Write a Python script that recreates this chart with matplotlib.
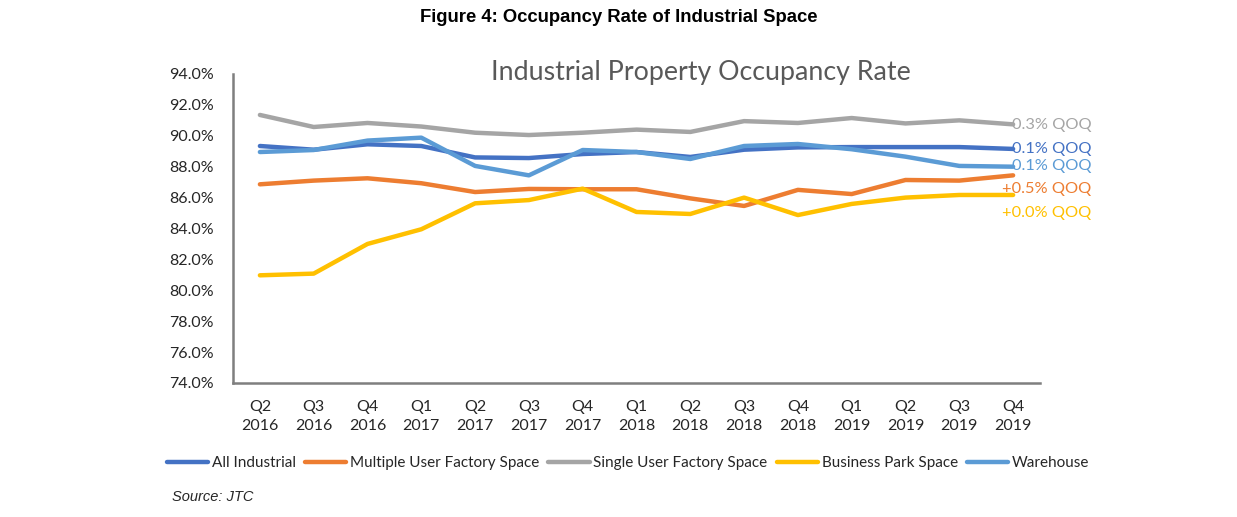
import matplotlib.pyplot as plt

quarters = ["Q2\n2016", "Q3\n2016", "Q4\n2016", "Q1\n2017", "Q2\n2017", "Q3\n2017", "Q4\n2017",
            "Q1\n2018", "Q2\n2018", "Q3\n2018", "Q4\n2018", "Q1\n2019", "Q2\n2019", "Q3\n2019", "Q4\n2019"]

all_industrial = [89.34, 89.1, 89.45, 89.34, 88.6, 88.56, 88.82, 88.95, 88.63, 89.1, 89.25, 89.27, 89.27, 89.27, 89.15]
multiple_user = [86.86, 87.1, 87.25, 86.93, 86.36, 86.56, 86.54, 86.54, 85.95, 85.46, 86.5, 86.23, 87.14, 87.1, 87.44]
single_user = [91.35, 90.57, 90.83, 90.6, 90.2, 90.05, 90.2, 90.4, 90.25, 90.95, 90.83, 91.15, 90.8, 91.0, 90.74]
business_park = [80.97, 81.08, 83.0, 83.95, 85.63, 85.84, 86.58, 85.07, 84.94, 86.0, 84.87, 85.59, 86.0, 86.17, 86.17]
warehouse = [88.95, 89.08, 89.69, 89.88, 88.05, 87.44, 89.08, 88.95, 88.5, 89.34, 89.47, 89.13, 88.65, 88.05, 88.0]

series_names = ["All Industrial", "Multiple User Factory Space", "Single User Factory Space",
                "Business Park Space", "Warehouse"]
series_values = [all_industrial, multiple_user, single_user, business_park, warehouse]
colors = ["#4472C4", "#ED7D31", "#A5A5A5", "#FFC000", "#5B9BD5"]
qoq_labels = ["-0.1% QOQ", "+0.5% QOQ", "-0.3% QOQ", "+0.0% QOQ", "-0.1% QOQ"]
# where each QOQ label sits (y in %, label centre)
qoq_label_y = [89.17, 86.56, 90.72, 85.0, 88.02]

plt.rcParams['font.family'] = ['Lato', 'DejaVu Sans']

fig = plt.figure(figsize=(12.37, 5.17), dpi=100)
ax = fig.add_axes([233 / 1237, 1 - 383 / 517, (1040 - 233) / 1237, (383 - 74) / 517])

x = list(range(len(quarters)))
for name, vals, col in zip(series_names, series_values, colors):
    ax.plot(x, vals, color=col, linewidth=3.2, label=name, solid_capstyle='round', zorder=3)

# QOQ labels at line ends; the minus signs tuck under the line ends
for col, lab, ly in zip(colors, qoq_labels, qoq_label_y):
    dx = -0.2 if lab.startswith("+") else -0.14
    ax.text(x[-1] + dx, ly, lab, color=col, fontsize=11.8, va='center', ha='left',
            zorder=2, clip_on=False)

ax.set_xlim(-0.5, len(quarters) - 0.5)
ax.set_ylim(74, 94)
ax.set_yticks(range(74, 95, 2))
ax.set_yticklabels([f"{v:.1f}%" for v in range(74, 95, 2)], fontsize=11.5, color="#262626")
ax.set_xticks(x)
ax.set_xticklabels(quarters, fontsize=11.5, color="#262626", linespacing=1.5)
ax.tick_params(length=0, pad=12)
ax.tick_params(axis='y', pad=14)

for side in ["top", "right"]:
    ax.spines[side].set_visible(False)
for side in ["left", "bottom"]:
    ax.spines[side].set_color("#7F7F7F")
    ax.spines[side].set_linewidth(1.8)

ax.set_title("Industrial Property Occupancy Rate", fontsize=19.3, color="#595959", x=0.58, y=0.955)

fig.text(0.5, 1 - 18 / 517, "Figure 4: Occupancy Rate of Industrial Space", ha='center', va='center',
         fontsize=13.3, fontweight='bold', family='Liberation Sans')
fig.text(172 / 1237, 1 - 497 / 517, "Source: JTC", ha='left', va='center', fontsize=10.5,
         style='italic', family='Liberation Sans', color="#262626")

fig.legend(loc='center', bbox_to_anchor=(628 / 1237, 1 - 463 / 517), ncol=5, frameon=False,
           fontsize=11.0, handlelength=2.7, handletextpad=0.25, columnspacing=0.6,
           labelcolor="#262626")

fig.savefig("out.png", dpi=100)
